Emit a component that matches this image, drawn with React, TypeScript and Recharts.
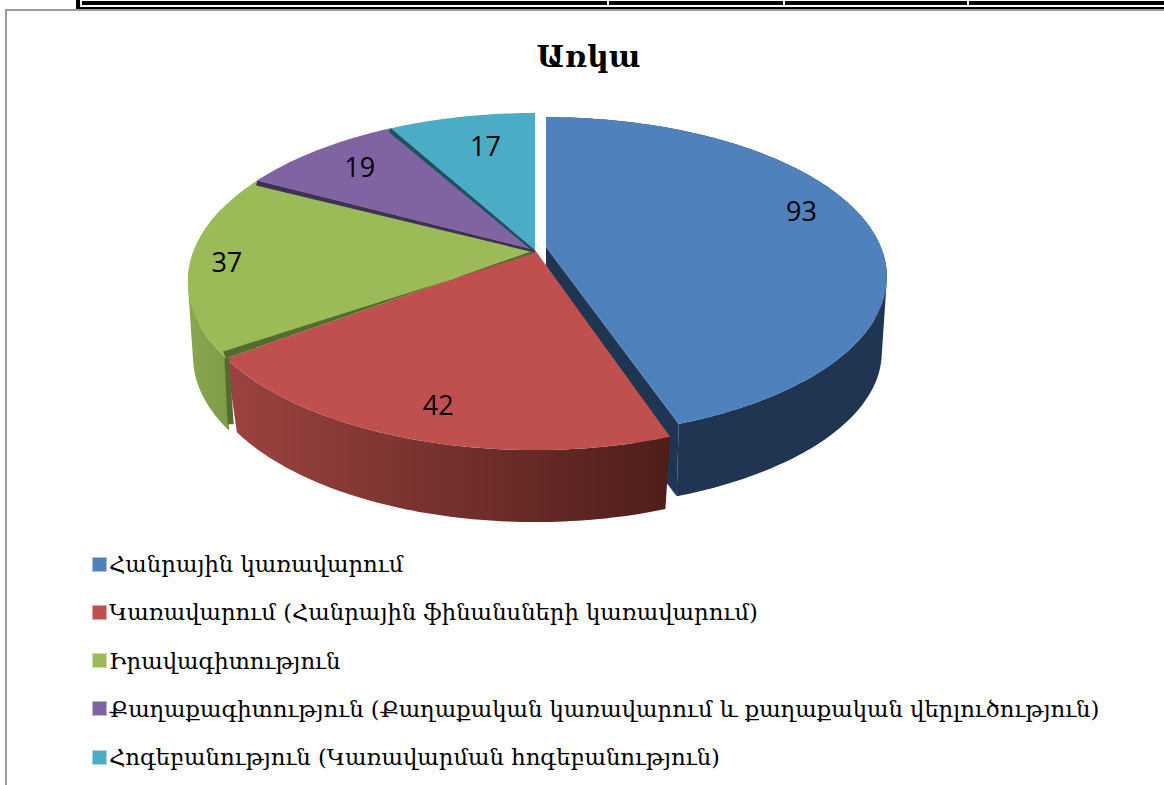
import React from 'react';
import { PieChart, Pie, Legend } from 'recharts';

const categories = [
  'Հանրային կառավարում',
  'Կառավարում (Հանրային ֆինանսների կառավարում)',
  'Իրավագիտություն',
  'Քաղաքագիտություն (Քաղաքական կառավարում և քաղաքական վերլուծություն)',
  'Հոգեբանություն (Կառավարման հոգեբանություն)',
];
const values = [93, 42, 37, 19, 17];
const topColors = ['#4F81BD', '#C0504D', '#9BBB59', '#8064A2', '#4BACC6'];
const wallFrom = ['#1F3552', '#9C4340', '#8AA84F', '#3F3055', '#2A6475'];
const wallTo = ['#1F3552', '#4E1E1B', '#7E9A48', '#3F3055', '#2A6475'];
const stripColors = ['none', 'none', '#566B2E', '#3F3055', '#1E5260'];
const stripVectors = [[0, 0], [0, 0], [-3, -7], [-1, 5], [-2, 4]];
const labelNudge = [[4, -18], [-2, 10], [-33, 2], [2, -1], [11, 5]];
const bottomScaleX = [0.985, 0.965, 0.985, 1, 1];

const table = categories.map((name, i) => ({ name, value: values[i], fill: topColors[i], idx: i }));

const PIE_CX = 535;
const PIE_CY = 250;
const RADIUS = 341;
const TILT = 0.477;
const PERSP = 0.187;
const DEPTH = 76;
const BOTTOM_SCALE_Y = 0.98;

type P = [number, number];
const rad = (d: number) => (d * Math.PI) / 180;

function project(phi: number, r: number, cx: number, cy: number, R: number, idx: number, bottom = false): P {
  const exploded = idx === 0;
  const x0 = cx + (exploded ? 11 : 0);
  const y0 = cy + (exploded ? -3 : 0);
  const a = exploded ? R * 0.982 : R;
  const b = R * TILT * (exploded ? 0.947 : 1);
  const u = r * Math.sin(rad(phi));
  const v = -r * Math.cos(rad(phi));
  const d = 1 - PERSP * v;
  const sx = bottom ? bottomScaleX[idx] : 1;
  const sy = bottom ? BOTTOM_SCALE_Y : 1;
  return [x0 + (a * sx * u) / d, y0 + (bottom ? DEPTH : 0) + (b * sy * v) / d];
}

const toPath = (pts: P[]) => 'M' + pts.map((p) => `${p[0].toFixed(1)},${p[1].toFixed(1)}`).join('L') + 'Z';

function arc(p0: number, p1: number, cx: number, cy: number, R: number, idx: number, bottom = false): P[] {
  const out: P[] = [];
  const n = Math.max(2, Math.ceil(Math.abs(p1 - p0)));
  for (let i = 0; i <= n; i++) out.push(project(p0 + ((p1 - p0) * i) / n, 1, cx, cy, R, idx, bottom));
  return out;
}

function sweptWall(p0: number, p1: number, cx: number, cy: number, R: number, idx: number): string {
  const top = arc(p0, p1, cx, cy, R, idx);
  const bot = arc(p0, p1, cx, cy, R, idx, true);
  const parts: string[] = [];
  for (let i = 0; i < top.length - 1; i++) {
    // every quad is wound the same way, so that a nonzero fill gives their union
    const quad: P[] = [top[i], top[i + 1], bot[i + 1], bot[i]];
    const area = quad.reduce((s, p, j) => {
      const q = quad[(j + 1) % 4];
      return s + p[0] * q[1] - q[0] * p[1];
    }, 0);
    parts.push(toPath(area < 0 ? quad.reverse() : quad));
  }
  return parts.join(' ');
}

function Slice3D(props: any) {
  const { cx, cy, outerRadius, startAngle, endAngle } = props;
  const idx: number = props.idx ?? props.payload?.idx ?? 0;
  const p0 = 90 - startAngle;
  const p1 = 90 - endAngle;
  const apex = project(0, 0, cx, cy, outerRadius, idx);
  const apexB = project(0, 0, cx, cy, outerRadius, idx, true);
  const rim = arc(p0, p1, cx, cy, outerRadius, idx);
  const rimB = arc(p0, p1, cx, cy, outerRadius, idx, true);
  const gid = `wall-${idx}`;
  const hasWall = idx <= 2;
  const wallStart = idx === 2 ? p0 + 0.5 : p0;
  const wallEnd = idx === 2 ? Math.min(p1, 285) : p1;
  const [sx, sy] = stripVectors[idx];
  const rimStart = project(p0, 1, cx, cy, outerRadius, idx);
  return (
    <g>
      <defs>
        <linearGradient id={gid} x1="0" y1="0" x2="1" y2="0">
          <stop offset="0" stopColor={wallFrom[idx]} />
          <stop offset="1" stopColor={wallTo[idx]} />
        </linearGradient>
      </defs>
      {idx === 0 && (
        <path
          d={toPath([apex, rim[rim.length - 1], rimB[rimB.length - 1], apexB])}
          fill={wallFrom[0]}
        />
      )}
      {hasWall && (
        <path d={sweptWall(wallStart, wallEnd, cx, cy, outerRadius, idx)} fill={`url(#${gid})`} />
      )}
      {idx === 2 && (
        <path
          d={toPath([
            [rimStart[0] + 3, rimStart[1] - 1],
            [rimStart[0] - 2, rimStart[1] - 7],
            [rimB[0][0] - 3, rimB[0][1] - 8],
            [rimB[0][0] + 3, rimB[0][1] - 8],
          ])}
          fill={stripColors[2]}
        />
      )}
      <path d={toPath([apex, ...rim])} fill={topColors[idx]} />
      {stripColors[idx] !== 'none' && (
        <path
          d={toPath([apex, rimStart, [rimStart[0] + sx, rimStart[1] + sy], [apex[0] + sx * 0.6, apex[1] + Math.abs(sy) * 0.5]])}
          fill={stripColors[idx]}
        />
      )}
    </g>
  );
}

function ValueLabel(props: any) {
  const { cx, cy, outerRadius, midAngle, value, index } = props;
  const [x, y] = project(90 - midAngle, 0.8, cx, cy, outerRadius, 1);
  const [nx, ny] = labelNudge[index];
  return (
    <text x={x + nx} y={y + ny} textAnchor="middle" dominantBaseline="central" fontFamily="'Open Sans', sans-serif" fontSize={27} fill="#000">
      {value}
    </text>
  );
}

const LEGEND_FONT = "'DejaVu Serif', serif";

function LegendBox({ payload }: any) {
  return (
    <div style={{ fontFamily: LEGEND_FONT }}>
      {(payload || []).map((it: any) => (
        <div key={it.value} style={{ height: 48.25, display: 'flex', alignItems: 'center', whiteSpace: 'nowrap' }}>
          <span style={{ width: 13, height: 13, background: it.color, border: '1px solid rgba(255,255,255,.5)', marginRight: 2, flex: 'none' }} />
          <span style={{ fontSize: 22.7, color: '#000' }}>{it.value}</span>
        </div>
      ))}
    </div>
  );
}

const Abs = (s: React.CSSProperties) => <div style={{ position: 'absolute', ...s }} />;

export default function App() {
  return (
    <div style={{ position: 'absolute', left: 0, top: 0, width: 1164, height: 785, overflow: 'hidden', background: '#fff' }}>
      {Abs({ left: 82, top: 1, right: 0, height: 4, background: '#000' })}
      {Abs({ left: 76, top: 7, right: 0, height: 2, background: '#000' })}
      {Abs({ left: 76, top: 0, width: 4, height: 9, background: '#000' })}
      {Abs({ left: 607, top: 0, width: 2, height: 6, background: '#fff' })}
      {Abs({ left: 783, top: 0, width: 2, height: 6, background: '#fff' })}
      {Abs({ left: 967, top: 0, width: 2, height: 6, background: '#fff' })}
      {Abs({ left: 5, top: 9, right: 0, height: 2, background: '#999' })}
      {Abs({ left: 5, top: 9, width: 2, bottom: 0, background: '#999' })}
      <div style={{ position: 'absolute', left: 0, width: 1177, top: 37, textAlign: 'center', fontFamily: LEGEND_FONT, fontWeight: 700, fontSize: 30, lineHeight: '40px', color: '#000' }}>
        Առկա
      </div>
      <div style={{ position: 'absolute', left: 0, top: 0 }}>
        <PieChart width={1164} height={785} margin={{ top: 0, right: 0, bottom: 0, left: 0 }}>
          <Pie
            data={table}
            dataKey="value"
            nameKey="name"
            cx={PIE_CX}
            cy={PIE_CY}
            innerRadius={0}
            outerRadius={RADIUS}
            startAngle={90}
            endAngle={-270}
            stroke="none"
            isAnimationActive={false}
            shape={Slice3D as any}
            label={ValueLabel as any}
            labelLine={false}
          />
          <Legend
            layout="vertical"
            align="center"
            verticalAlign="middle"
            itemSorter={null}
            content={LegendBox as any}
            wrapperStyle={{ left: 92, top: 540, width: 1060 }}
          />
        </PieChart>
      </div>
    </div>
  );
}
